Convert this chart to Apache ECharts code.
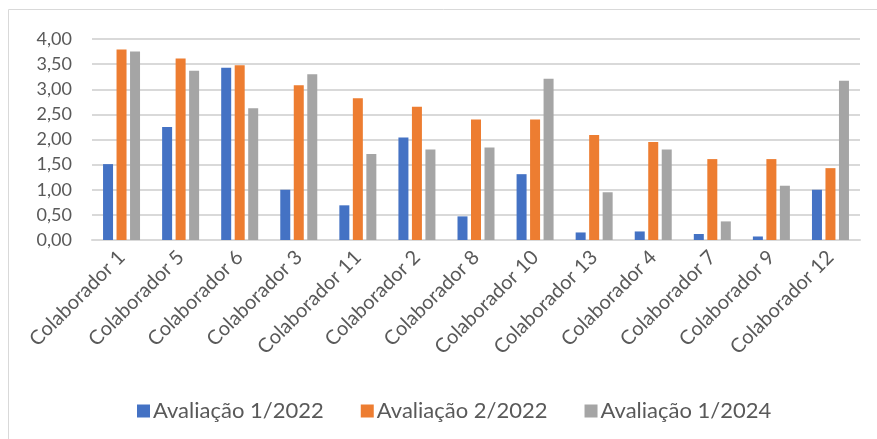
<!DOCTYPE html>
<html>
<head>
<meta charset="utf-8">
<script src="https://cdn.jsdelivr.net/npm/echarts@6/dist/echarts.min.js"></script>
<style>
  html, body { margin: 0; padding: 0; background: #fff; }
  #chart { width: 877px; height: 439px; }
</style>
</head>
<body>
<div id="chart"></div>
<script>
// categories (sorted as in the original sheet)
const categories = ["Colaborador 1", "Colaborador 5", "Colaborador 6", "Colaborador 3", "Colaborador 11",
  "Colaborador 2", "Colaborador 8", "Colaborador 10", "Colaborador 13", "Colaborador 4",
  "Colaborador 7", "Colaborador 9", "Colaborador 12"];

const aval2022a = [1.51, 2.25, 3.43, 1.00, 0.69, 2.04, 0.47, 1.31, 0.15, 0.17, 0.12, 0.07, 1.00];
const aval2022b = [3.79, 3.61, 3.48, 3.08, 2.82, 2.65, 2.40, 2.40, 2.09, 1.95, 1.61, 1.61, 1.43];
const aval2024 = [3.75, 3.37, 2.62, 3.30, 1.71, 1.80, 1.84, 3.21, 0.95, 1.80, 0.37, 1.08, 3.17];

const seriesNames = ["Avaliação 1/2022", "Avaliação 2/2022", "Avaliação 1/2024"];
const colors = ["#4472c4", "#ed7d31", "#a5a5a5"];

const font = "Lato, 'Open Sans', sans-serif";
const chart = echarts.init(document.getElementById("chart"));

const option = {
  animation: false,
  color: colors,
  graphic: [{
    type: "rect",
    shape: { x: 8.5, y: 9.5, width: 880, height: 440 },
    style: { fill: "none", stroke: "#d9d9d9", lineWidth: 1 },
    silent: true
  }],
  grid: { left: 92, right: 17, top: 39, bottom: 199 },
  legend: {
    top: 395,
    left: 132,
    itemWidth: 13,
    itemHeight: 13,
    itemGap: 37,
    icon: "rect",
    textStyle: { color: "#595959", fontSize: 22, fontFamily: font, padding: [0, 0, 0, -2] },
    data: seriesNames
  },
  xAxis: {
    type: "category",
    data: categories,
    axisTick: { show: false },
    axisLine: { lineStyle: { color: "#d9d9d9", width: 2 } },
    axisLabel: {
      rotate: 45,
      interval: 0,
      margin: 14,
      color: "#595959",
      fontSize: 20,
      fontFamily: font
    }
  },
  yAxis: {
    type: "value",
    min: 0,
    max: 4,
    interval: 0.5,
    axisLine: { show: false },
    axisTick: { show: false },
    splitLine: { lineStyle: { color: "#d9d9d9", width: 2 } },
    axisLabel: {
      color: "#595959",
      fontSize: 18,
      fontFamily: font,
      margin: 20,
      formatter: v => v.toFixed(2).replace(".", ",")
    }
  },
  series: [
    { name: seriesNames[0], type: "bar", data: aval2022a, barWidth: 10, barGap: "35%" },
    { name: seriesNames[1], type: "bar", data: aval2022b, barWidth: 10, barGap: "35%" },
    { name: seriesNames[2], type: "bar", data: aval2024, barWidth: 10, barGap: "35%" }
  ]
};

chart.setOption(option);
</script>
</body>
</html>
